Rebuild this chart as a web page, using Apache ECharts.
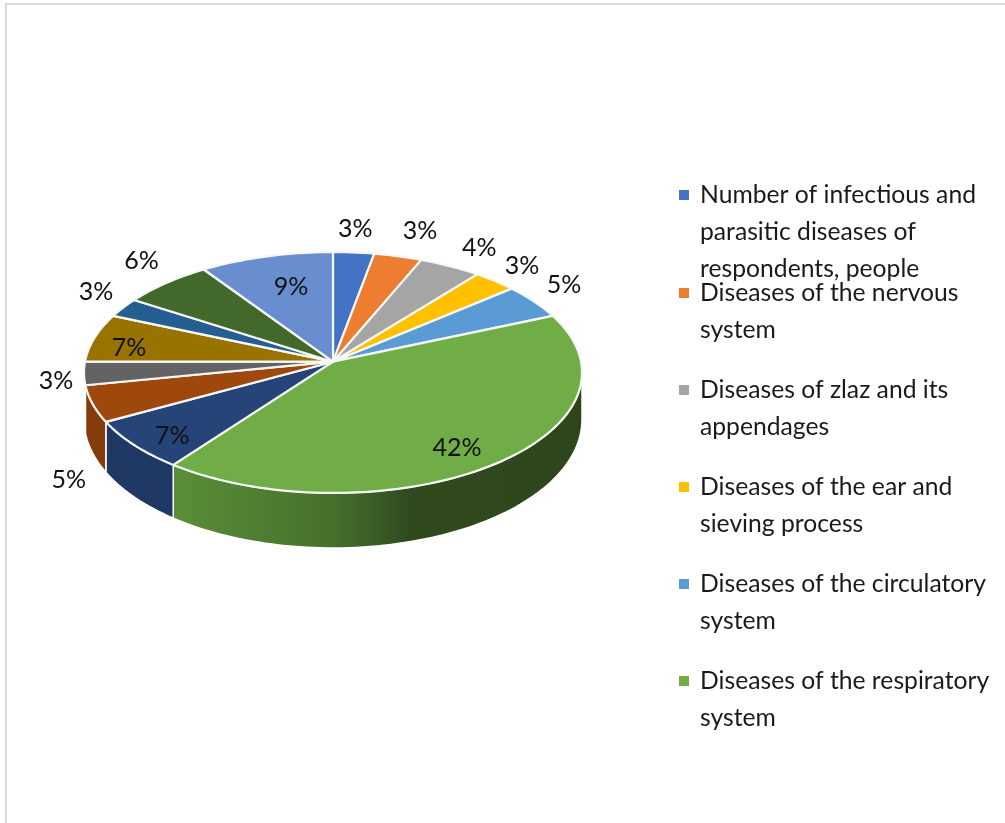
<!DOCTYPE html>
<html>
<head>
<meta charset="utf-8">
<style>html,body{margin:0;padding:0;background:#fff}#chart{width:1005px;height:823px}</style>
<script src="https://cdn.jsdelivr.net/npm/echarts@6/dist/echarts.min.js"></script>
</head>
<body>
<div id="chart"></div>
<script>
// ---- data ----
const categories = [
  "Number of infectious and parasitic diseases of respondents, people",
  "Diseases of the nervous system",
  "Diseases of zlaz and its appendages",
  "Diseases of the ear and sieving process",
  "Diseases of the circulatory system",
  "Diseases of the respiratory system",
  "Category 7", "Category 8", "Category 9", "Category 10",
  "Category 11", "Category 12", "Category 13"
];
const sliceValues = [2.9, 3.4, 4.4, 3.1, 4.7, 41.7, 6.8, 4.9, 3.1, 6.5, 2.6, 6.45, 9.45];
const legendLabels = [
  ["Number of infectious and", "parasitic diseases of", "respondents, people"],
  ["Diseases of the nervous", "system"],
  ["Diseases of zlaz and its", "appendages"],
  ["Diseases of the ear and", "sieving process"],
  ["Diseases of the circulatory", "system"],
  ["Diseases of the respiratory", "system"]
];
// ---- styling ----
const sliceColors = ["#4472C4","#ED7D31","#A5A5A5","#FFC000","#5B9BD5","#70AD47","#264478","#9E480E","#636363","#997300","#255E91","#43682B","#698ED0"];
const wallColors  = {6:"#203864", 7:"#843C0C", 8:"#525252"};
const labelRadial = [1.237,1.274,1.223,1.191,1.2,0.824,0.851,1.337,1.112,0.839,1.182,1.238,0.686];
const labelTurn   = [-0.6,1.2,1.2,-0.5,-2.7,3.6,-2.8,-23,-2.6,-3.8,3.4,3.2,1.9];
const legendTops  = [176.5,274.5,371.5,468.5,565.5,662.5];
const FONT = "Lato";
const LINE = 37, FS_LEGEND = 24.7, FS_LABEL = 25;
// ---- pie projection (tilted disc with slight perspective) ----
const CX = 333, CY = 361.7, AX = 248, BY = 119.5, PERSP = 0.0897;
function project(deg, r, isFloor) {
  const t = deg * Math.PI / 180;
  const u = r * Math.sin(t), v = -r * Math.cos(t), w = 1 - PERSP * v;
  return [CX + AX * u / w, CY + BY * v / w + (isFloor ? 46 + 9 * v : 0)];
}
const total = sliceValues.reduce((a, b) => a + b, 0);
let cum = 0;
const spans = sliceValues.map(v => { const s = cum; cum += v; return [s / total * 360, cum / total * 360]; });
const WALL_FROM = 95, WALL_TO = 265;
function arc(a, b, isFloor) {
  const n = Math.max(2, Math.ceil(Math.abs(b - a) / 1.5)), pts = [];
  for (let i = 0; i <= n; i++) pts.push(project(a + (b - a) * i / n, 1, isFloor));
  return pts;
}
function greenWall() {
  return new echarts.graphic.LinearGradient(0, 0, 1, 0, [
    {offset: 0, color: "#5A8F39"},
    {offset: 0.38, color: "#47702D"},
    {offset: 0.47, color: "#3D6127"},
    {offset: 0.58, color: "#304A1E"},
    {offset: 1, color: "#2E451C"}
  ]);
}
function renderSlice(i) {
  return function () {
    const [a, b] = spans[i], children = [];
    const lo = Math.max(a, WALL_FROM), hi = Math.min(b, WALL_TO);
    if (lo < hi) {
      children.push({
        type: "polygon", z2: 0, silent: true,
        shape: {points: arc(lo, hi, false).concat(arc(hi, lo, true))},
        style: {fill: i === 5 ? greenWall() : (wallColors[i] || sliceColors[i]), stroke: "#fff", lineWidth: 1.5, lineJoin: "round"}
      });
    }
    children.push({
      type: "polygon", z2: 1, silent: true,
      shape: {points: [project(0, 0)].concat(arc(a, b, false))},
      style: {fill: sliceColors[i], stroke: "#F6F8F4", lineWidth: 2.2, lineJoin: "round"}
    });
    const p = project((a + b) / 2 + labelTurn[i], labelRadial[i]);
    children.push({
      type: "text", z2: 10, silent: true, x: p[0], y: p[1],
      style: {text: Math.round(sliceValues[i]) + "%", fontFamily: FONT, fontSize: FS_LABEL, fill: "#111", align: "center", verticalAlign: "middle"}
    });
    return {type: "group", children};
  };
}
// legend marker: a square beside the first text line, inside a box as tall as the text block
function legendIcon(lines) {
  const h = lines * LINE, y0 = LINE / 2 - 5;
  return `path://M0 0L0 0M16 ${h}L16 ${h}M0 ${y0}L10 ${y0}L10 ${y0 + 10}L0 ${y0 + 10}Z`;
}
const option = {
  animation: false,
  backgroundColor: "#fff",
  graphic: [{type: "rect", silent: true, shape: {x: 6, y: 4, width: 1100, height: 1000}, style: {fill: "none", stroke: "#D9D9D9", lineWidth: 2}}],
  legend: legendLabels.map((lines, i) => ({
    data: [categories[i]], left: 679, top: legendTops[i], padding: 0, selectedMode: false,
    icon: legendIcon(lines.length), itemWidth: 16, itemHeight: lines.length * LINE,
    formatter: () => lines.join("\n"),
    textStyle: {fontFamily: FONT, fontSize: FS_LEGEND, lineHeight: LINE, color: "#1a1a1a"}
  })),
  series: categories.map((name, i) => ({
    type: "custom", name, coordinateSystem: "none", silent: true,
    itemStyle: {color: sliceColors[i]},
    data: [[sliceValues[i]]],
    renderItem: renderSlice(i)
  }))
};
echarts.init(document.getElementById("chart"), null, {renderer: "canvas"}).setOption(option);
</script>
</body>
</html>
